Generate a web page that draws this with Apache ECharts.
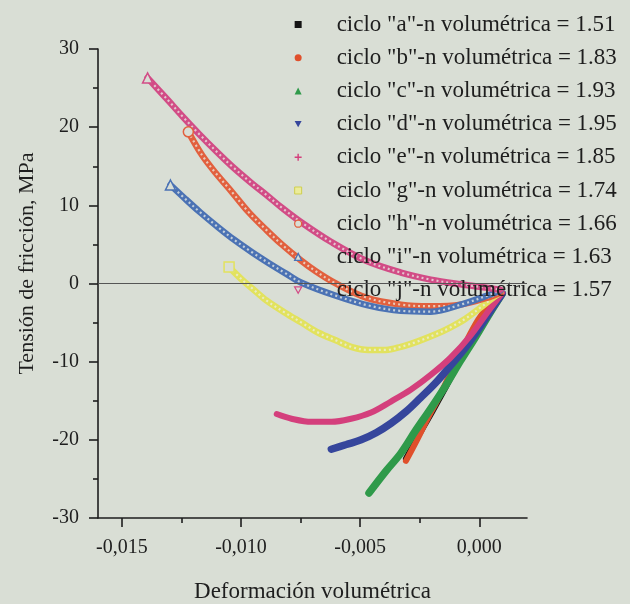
<!DOCTYPE html>
<html>
<head>
<meta charset="utf-8">
<script src="https://cdn.jsdelivr.net/npm/echarts@6/dist/echarts.min.js"></script>
<style>
  html, body { margin: 0; padding: 0; background: #d9ded5; }
  #chart { width: 630px; height: 604px; }
</style>
</head>
<body>
<div id="chart"></div>
<script>
// Volumetric strain (x) vs. friction stress in MPa (y), one pair of arrays per cycle.
const aX = [-0.00308, -0.00254, -0.00196, -0.00138, -0.00088, -0.00042, 0.00004, 0.0005, 0.00096];
const aY = [-22.4, -19.4, -16.3, -13.1, -10.1, -7.3, -4.5, -2.4, -1.3];

const bX = [-0.00308, -0.00263, -0.00217, -0.00167, -0.00117, -0.00063, -0.00004, 0.00046, 0.00096];
const bY = [-22.7, -20.1, -17.3, -14.4, -11.2, -7.9, -4.6, -2.6, -1.3];

const cX = [-0.00463, -0.00392, -0.00329, -0.00267, -0.00204, -0.00142, -0.00079, -0.00017, 0.00046, 0.00096];
const cY = [-26.8, -24.0, -21.7, -18.8, -16.0, -13.1, -9.9, -6.9, -3.7, -1.3];

const dX = [-0.00621, -0.00558, -0.00496, -0.00433, -0.00371, -0.00308, -0.00246, -0.00183, -0.00121, -0.00058, 0.00004, 0.00054, 0.00096];
const dY = [-21.2, -20.6, -20.0, -19.1, -17.9, -16.4, -14.6, -12.7, -10.5, -8.2, -5.5, -3.2, -1.3];

const eX = [-0.0085, -0.00788, -0.00704, -0.00621, -0.00538, -0.00454, -0.00371, -0.00288, -0.00204, -0.00121, -0.00038, 0.00046, 0.00096];
const eY = [-16.7, -17.3, -17.7, -17.7, -17.3, -16.5, -15.1, -13.6, -11.7, -9.5, -6.7, -3.2, -1.2];

const gX = [-0.0105, -0.00996, -0.00954, -0.00892, -0.00817, -0.00746, -0.00675, -0.006, -0.00538, -0.00467, -0.00392, -0.00329, -0.00258, -0.00183, -0.00121, -0.00058, 0.00004, 0.00054, 0.00088];
const gY = [2.1, 0.5, -0.6, -2.2, -3.7, -5.0, -6.3, -7.3, -8.1, -8.5, -8.5, -8.1, -7.4, -6.5, -5.6, -4.5, -3.1, -1.9, -1.2];

const hX = [-0.01221, -0.01163, -0.01108, -0.01038, -0.00967, -0.00892, -0.00829, -0.00746, -0.00683, -0.00608, -0.00475, -0.00329, -0.00204, -0.00079, 0.00046, 0.00088];
const hY = [19.4, 16.4, 14.2, 11.7, 9.1, 6.8, 5.0, 2.9, 1.5, 0.1, -1.8, -2.7, -2.9, -2.7, -1.7, -1.2];

const iX = [-0.01296, -0.01233, -0.01171, -0.0110, -0.01029, -0.00954, -0.00883, -0.00813, -0.00746, -0.00608, -0.00467, -0.00329, -0.00204, -0.00067, 0.00046, 0.00088];
const iY = [12.6, 10.8, 9.1, 7.3, 5.6, 4.0, 2.6, 1.3, 0.1, -1.5, -2.8, -3.5, -3.6, -2.6, -1.4, -0.9];

const jX = [-0.01392, -0.01308, -0.01246, -0.01175, -0.0110, -0.01038, -0.00954, -0.00892, -0.00829, -0.00746, -0.00621, -0.00475, -0.00329, -0.00204, -0.00079, 0.00046, 0.00088];
const jY = [26.3, 23.5, 21.4, 19.1, 16.8, 15.0, 12.8, 11.3, 9.7, 7.8, 5.3, 2.9, 1.4, 0.5, -0.1, -0.6, -0.8];

const cycleNames = [
  'ciclo "a"-n volumétrica = 1.51',
  'ciclo "b"-n volumétrica = 1.83',
  'ciclo "c"-n volumétrica = 1.93',
  'ciclo "d"-n volumétrica = 1.95',
  'ciclo "e"-n volumétrica = 1.85',
  'ciclo "g"-n volumétrica = 1.74',
  'ciclo "h"-n volumétrica = 1.66',
  'ciclo "i"-n volumétrica = 1.63',
  'ciclo "j"-n volumétrica = 1.57'
];

const xMajorTicks = [-0.015, -0.010, -0.005, 0.000];
const xMinorTicks = [-0.0125, -0.0075, -0.0025];

const SERIF = 'Liberation Serif';
const INK = '#1e1e1e';
const PAPER = '#d9ded5';

function pairs(xs, ys) { return xs.map((x, k) => [x, ys[k]]); }

const DOWN_TRI = 'path://M0,0L10,0L5,9Z';
const PLUS = 'path://M4,0H6V4H10V6H6V10H4V6H0V4H4Z';

// solid bands (filled markers packed tightly)
function solid(name, xs, ys, color, width) {
  return {
    name, type: 'line', data: pairs(xs, ys), smooth: 0.35,
    symbol: 'none', color,
    lineStyle: { color, width, cap: 'round' },
    emphasis: { disabled: true }, silent: true
  };
}
// bands of open markers: a coloured stroke with a light broken core,
// and an open marker drawn at the first point of the cycle
function hollow(name, xs, ys, color, mark) {
  return [
    {
      name, type: 'line', data: pairs(xs, ys), smooth: 0.35,
      symbol: mark, showSymbol: true,
      symbolSize: (v, p) => (p.dataIndex === 0 ? 10 : 0),
      itemStyle: { color: PAPER, borderColor: color, borderWidth: 1.5 },
      color,
      lineStyle: { color, width: 6.5, cap: 'round' },
      emphasis: { disabled: true }, silent: true
    },
    {
      name: name + ' core', type: 'line', data: pairs(xs, ys), smooth: 0.35,
      symbol: 'none',
      lineStyle: { color: 'rgba(235,238,230,0.75)', width: 2.2, type: [2, 3] },
      emphasis: { disabled: true }, silent: true
    }
  ];
}

const colors = {
  a: '#141414', b: '#e0502c', c: '#2f9a4a', d: '#36469c', e: '#d43f7c',
  g: '#e2e25e', h: '#e2603e', i: '#4b72b4', j: '#d24c86'
};

const series = [
  solid(cycleNames[0], aX, aY, colors.a, 6),
  solid(cycleNames[1], bX, bY, colors.b, 6),
  solid(cycleNames[2], cX, cY, colors.c, 7.5),
  solid(cycleNames[3], dX, dY, colors.d, 7.5),
  solid(cycleNames[4], eX, eY, colors.e, 6),
  ...hollow(cycleNames[5], gX, gY, colors.g, 'rect'),
  ...hollow(cycleNames[6], hX, hY, colors.h, 'circle'),
  ...hollow(cycleNames[7], iX, iY, colors.i, 'triangle'),
  ...hollow(cycleNames[8], jX, jY, colors.j, 'triangle')
];
// horizontal reference line at zero stress
series[0].markLine = {
  silent: true, symbol: 'none', label: { show: false },
  lineStyle: { color: '#555', width: 1, type: 'solid' },
  data: [{ yAxis: 0 }]
};

const legendIcons = [
  { icon: 'rect', itemStyle: { color: colors.a } },
  { icon: 'circle', itemStyle: { color: colors.b } },
  { icon: 'triangle', itemStyle: { color: colors.c } },
  { icon: DOWN_TRI, itemStyle: { color: colors.d } },
  { icon: PLUS, itemStyle: { color: colors.e } },
  { icon: 'rect', itemStyle: { color: '#ecec9a', borderColor: '#cfcf50', borderWidth: 1 } },
  { icon: 'circle', itemStyle: { color: PAPER, borderColor: colors.h, borderWidth: 1.3 } },
  { icon: 'triangle', itemStyle: { color: PAPER, borderColor: colors.i, borderWidth: 1.3 } },
  { icon: DOWN_TRI, itemStyle: { color: PAPER, borderColor: colors.j, borderWidth: 1.3 } }
];

const chart = echarts.init(document.getElementById('chart'), null, { renderer: 'canvas' });

chart.setOption({
  backgroundColor: PAPER,
  animation: false,
  textStyle: { fontFamily: SERIF },
  grid: { left: 98, right: 103, top: 49, bottom: 86, containLabel: false, outerBoundsMode: 'none' },
  legend: {
    orient: 'vertical', left: 289, top: 8,
    itemWidth: 7, itemHeight: 7, itemGap: 10.2,
    selectedMode: false,
    textStyle: { fontFamily: SERIF, fontSize: 23, color: INK, lineHeight: 20, padding: [0, 0, 0, 30] },
    data: cycleNames.map((n, k) => Object.assign({ name: n }, legendIcons[k]))
  },
  xAxis: [
    {
      type: 'value', min: -0.016, max: 0.002,
      name: 'Deformación volumétrica', nameLocation: 'middle', nameGap: 62,
      nameTextStyle: { fontFamily: SERIF, fontSize: 23, color: INK },
      axisLine: { show: true, onZero: false, lineStyle: { color: INK, width: 1.6 } },
      axisTick: { show: true, inside: false, length: 9, customValues: xMajorTicks, lineStyle: { color: INK, width: 1.6 } },
      axisLabel: {
        customValues: xMajorTicks, margin: 20, fontFamily: SERIF, fontSize: 20, color: INK,
        formatter: v => v.toFixed(3).replace('.', ',')
      },
      splitLine: { show: false }
    },
    {
      type: 'value', min: -0.016, max: 0.002, position: 'bottom',
      axisLine: { show: false, onZero: false },
      axisTick: { show: true, length: 5, customValues: xMinorTicks, lineStyle: { color: INK, width: 1.6 } },
      axisLabel: { show: false },
      splitLine: { show: false }
    }
  ],
  yAxis: {
    type: 'value', min: -30, max: 30, interval: 10,
    name: 'Tensión de fricción, MPa', nameLocation: 'middle', nameGap: 60,
    nameTextStyle: { fontFamily: SERIF, fontSize: 22, color: INK, padding: [0, 0, 0, 40] },
    axisLine: { show: true, onZero: false, lineStyle: { color: INK, width: 1.6 } },
    axisTick: { show: true, length: 9, lineStyle: { color: INK, width: 1.6 } },
    minorTick: { show: true, splitNumber: 2, length: 5, lineStyle: { color: INK, width: 1.6 } },
    axisLabel: { margin: 19, fontFamily: SERIF, fontSize: 20, color: INK },
    splitLine: { show: false }
  },
  series
});
</script>
</body>
</html>
